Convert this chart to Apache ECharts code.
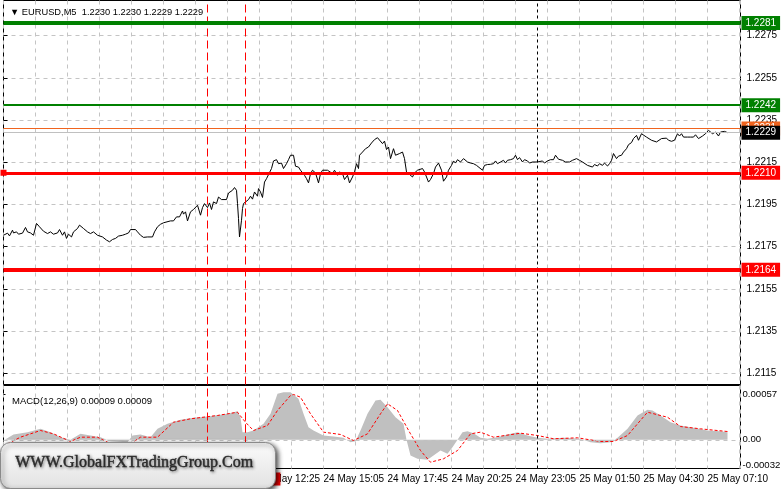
<!DOCTYPE html>
<html><head><meta charset="utf-8">
<script src="https://cdn.jsdelivr.net/npm/echarts@6/dist/echarts.min.js"></script>
<style>html,body{margin:0;padding:0;background:#fff}#c{width:781px;height:489px}</style>
</head><body><div id="c"></div>
<script>
// ---------- DATA ----------
const priceTicks = [1.2115,1.2135,1.2155,1.2175,1.2195,1.2215,1.2235,1.2255,1.2275];
const priceRange = [1.21097, 1.22916];
const macdTicks = [-0.00032, 0, 0.00057];
const macdRange = [-0.000361, 0.000683];
const timeTickBars = [32,64,96,128,160,192,224,256,288,320,352];
const timeTickLabels = ['24 May 04:25','24 May 07:05','24 May 09:45','24 May 12:25','24 May 15:05','24 May 17:45','24 May 20:25','24 May 23:05','25 May 01:50','25 May 04:30','25 May 07:10'];
const resistLevels = [1.2281, 1.2242];
const supportLevels = [1.2210, 1.2164];
const bidPrice = 1.2229;
const askPrice = 1.2231;
const eventBars = [102, 121];       // red vertical markers
const eventLabel = '24 May 11:50';
const daySeparatorBar = 267;
// [bar index, close]
const closeByBar = [
[0,1.21804],[1,1.21796],[2,1.21814],[3,1.21801],[4.5,1.21828],[5,1.21815],[6.5,1.2182],[7.5,1.21809],[9.5,1.21814],[11,1.21841],
[12,1.2182],[13.5,1.21815],[15,1.21804],[16.5,1.2186],[18,1.21844],[20,1.21823],[22,1.21812],[23.5,1.2182],[25,1.21809],[27,1.21815],
[28,1.21831],[29.5,1.21804],[30.5,1.2182],[31.5,1.21789],[32.5,1.21809],[34,1.21796],[35,1.2182],[37,1.21836],[38,1.21852],[40,1.21836],
[42,1.2182],[43.5,1.21812],[45,1.2182],[47,1.21804],[48,1.21812],[49.5,1.21796],[50.5,1.21789],[51.5,1.21781],[52,1.21789],[53,1.21773],
[54.5,1.21784],[56,1.21789],[57.5,1.218],[59.5,1.21804],[61,1.21809],[62.5,1.21815],[63.5,1.21831],[66,1.21831],[67,1.2182],[68.5,1.21804],
[70,1.21794],[72,1.21796],[74.5,1.21796],[75.5,1.2182],[77,1.21844],[78.5,1.21856],[80,1.21863],[81,1.21872],[83.5,1.21872],[85,1.21872],
[86.5,1.21891],[88,1.21891],[89.5,1.21919],[90,1.21904],[91,1.21915],[92,1.21872],
[93.5,1.21915],[95,1.21926],[97,1.21946],[98.5,1.21899],[99.5,1.21935],[100.5,1.21954],[102,1.21935],[103,1.21957],[104,1.21926],[105,1.21962],
[106.5,1.21954],[107.5,1.21985],[109,1.21973],[110,1.21978],[111.5,1.21973],[112.5,1.22004],[114.5,1.22017],[115.5,1.2203],[116.5,1.22017],[117,1.21954],
[117.5,1.21883],[118,1.21796],[119,1.21875],[119.5,1.21931],[120,1.21954],[121,1.21962],[122.5,1.21973],[123.5,1.21989],[124.5,1.21975],[125.5,1.22009],
[127,1.21989],[127.5,1.22025],[128.5,1.22009],[129.5,1.21983],[130.5,1.22056],[131.5,1.22072],[132.5,1.2208],[134,1.2212],[135,1.22156],[136.5,1.22162],
[137.5,1.22143],[139,1.22146],[140,1.2212],[141.5,1.22143],[142.5,1.22162],[143.5,1.22183],[145,1.22183],[146,1.22131],[147.5,1.22127],[148.5,1.22112],
[149.5,1.22104],[150.5,1.22088],[151.5,1.22072],[152.5,1.22052],[153.5,1.22096],[154.5,1.22112],[156,1.22099],[157.5,1.22052],[158.5,1.22096],[159.5,1.22112],
[160.5,1.2212],[162,1.22112],[163,1.22115],[164.5,1.22096],[165.5,1.22112],[167,1.22088],[168,1.22104],[169.5,1.22096],[170.5,1.22068],[172,1.22088],
[173,1.22052],[174.5,1.2208],[175.5,1.22104],[176.5,1.22143],[177.5,1.2212],[178,1.22183],[179.5,1.22198],[181,1.22214],[182.5,1.22222],[184,1.22241],
[185.5,1.22257],
[187,1.22266],[188,1.22262],[189.5,1.22238],[190.5,1.2225],[191.5,1.2221],[192.5,1.22222],[193.5,1.22167],[194.5,1.22172],[195,1.22214],[196,1.22183],
[197,1.22178],[198,1.22191],[199.5,1.22198],[200.5,1.22167],[201.5,1.22104],[202.5,1.22096],[204.5,1.2208],[205.5,1.22099],[207,1.22112],[208,1.22104],
[209.5,1.2212],[210.5,1.22104],[211.5,1.22096],[212.5,1.22056],[213.5,1.22068],[215,1.22096],[216,1.22127],[217.5,1.22146],[219,1.22112],[220,1.2206],
[221.5,1.2208],[222.5,1.22112],[224,1.22135],[225,1.22156],[226,1.22146],[227,1.22162],[228.5,1.22151],[230,1.22167],[231,1.22162],[232,1.22151],
[233.5,1.22146],[235,1.22143],[236.5,1.22135],[237.5,1.22127],[239.5,1.22112],[240.5,1.22135],[242,1.22139],[243.5,1.2214],[245,1.22143],[246,1.22156],
[247,1.22143],[248.5,1.22151],[250,1.22159],[251,1.22146],[252,1.22159],[253.5,1.22162],[255,1.22167],[256,1.22183],[257,1.22162],[258,1.22172],
[259.5,1.22151],[260.5,1.22162],[262,1.22156],[263,1.22146],[264.5,1.22151],[265.5,1.22143],[267,1.22151],[268,1.22143],[269.5,1.22156],[270.5,1.22146],
[272,1.22156],[273.5,1.22162],[275,1.22162],[276,1.22183],[277.5,1.22164],
[279.5,1.22159],[281,1.22151],[283,1.22151],[284.5,1.22159],[286.5,1.22167],[288,1.22159],[289.5,1.22151],[290.5,1.22143],[292,1.22135],[293,1.22143],
[294.5,1.22127],[295.5,1.22139],[297,1.22132],[298,1.22143],[299.5,1.22135],[300.5,1.22146],[302,1.22132],[303,1.22143],[304,1.22159],[305,1.22191],
[306.5,1.22167],[307.5,1.22179],[309,1.22183],[310,1.22198],[311.5,1.22214],[312.5,1.22233],[314,1.22243],[315,1.22262],[316.5,1.22277],[317.5,1.22254],
[319,1.22285],[320,1.2229],[321.5,1.22269],[322.5,1.22264],[324,1.22254],[325,1.22258],[326.5,1.22246],[327.5,1.22254],[329,1.22262],[330,1.22258],
[331.5,1.22264],[332.5,1.22254],[334,1.22249],[335.5,1.22254],[337,1.22285],[338,1.22274],[339,1.22285],[340,1.22269],[342,1.22269],[343.5,1.22269],
[345,1.22269],[346,1.2228],[347.5,1.22262],[348.5,1.22264],[349.5,1.22274],[351,1.22285],[352.5,1.22301],[353.5,1.22293],[354.5,1.22285],[356,1.22293],
[357.5,1.22274],[358.5,1.22293],[359.5,1.22301],[360.5,1.22296],[362,1.2229]
];
const macdHist = [
[0,-0.00001],[5,0.000067],[12,0.000096],[18.5,0.000138],[23.5,0.000096],[28.5,0.000033],[33.5,0],[38.5,0.000075],[43.5,0.000054],[48.5,0.000033],
[53.5,-0.000018],[62,-0.00003],[64.5,0.000054],[68.5,0.000067],[73.5,0.000033],[77,0.000138],[82,0.000201],[88.5,0.000252],[95,0.000277],[102,0.000293],
[112,0.000327],[117,0.00036],[118.5,0.000284],[119.5,0.000096],[122,0.000096],[125,0.000117],[130,0.000201],[133.5,0.000327],[137,0.000579],[140,0.000599],
[143.5,0.000599],[147.5,0.000516],[150,0.000327],[152.5,0.000158],[155,0.000117],[160,0.000054],[165,0.000042],[170,0.000025],[173.5,-0.00003],[176,-0.000018],
[178.5,0.000117],[182,0.000327],[186,0.000494],[188.5,0.000503],[192,0.00041],[196,0.000284],[200,0.000201],[201.5,0],[203.5,-0.000197],[207,-0.000239],
[212,-0.000252],[215,-0.000197],[218.5,-0.000135],[222,-0.000176],[224.5,-0.000093],[227,0],[229.5,0.000096],[232,0.000108],[235,0.000083],[238.5,0.000025],
[242,0.000013],[247,0.000033],[252,0.000067],[257,0.000096],[262,0.000054],[267,0.000025],[272,0.000013],[280,0.000025],[288.5,0.000013],[293.5,-0.00003],
[298.5,-0.000043],[303.5,-0.00003],[307,0.000025],[312,0.000138],[317,0.000306],[322,0.000377],[324.5,0.000369],[328.5,0.000306],[333.5,0.000221],[338.5,0.00018],
[345,0.000151],[352,0.000117],[358.5,0.000108],[362,0.000096]
];
const macdSignal = [
[2,-0.00005],[8.5,0.000033],[18.5,0.000117],[25,0.000075],[33.5,-0.000021],[38.5,0.000033],[47,0.000033],[53.5,-0.00005],[63.5,-0.00005],[68.5,0.000033],
[77,0.000033],[85,0.000221],[93.5,0.000264],[107,0.000306],[117,0.000347],[121,0.000221],[125,0.000117],[132,0.00018],[137,0.000369],[143.5,0.000557],
[145,0.00057],[148.5,0.000536],[153.5,0.000327],[160,0.000096],[168.5,0.000067],[175,-0.000009],[182,0.000075],[188.5,0.000327],[192,0.000453],[197,0.000369],
[203.5,0.000075],[208.5,-0.000135],[213.5,-0.000282],[220,-0.000239],[227,-0.000135],[233.5,0.000075],[238.5,0.000096],[245,0.000033],[258.5,0.000083],[267,0.000054],
[275,0.000013],[287,0.000025],[298.5,-0.000021],[305,-0.000021],[312,0.000054],[322,0.000347],[332,0.000284],[338.5,0.000167],[348.5,0.000138],[362,0.000104]
];

// ---------- CHART ----------
const FONT = 'Liberation Sans';
const chart = echarts.init(document.getElementById('c'));
const dashGrey = {color:'#c4c4c4', type:[4,4], width:1};
const RED = '#ff0000';
const EVT = '#ff0000';

function levelLine(v, color, width, labelBg, extra) {
  return Object.assign({
    yAxis: v,
    lineStyle: {color: color, width: width, type: 'solid'},
    label: {show: true, position: 'end', distance: 1, formatter: v.toFixed(4),
      backgroundColor: labelBg || color, color: '#fff', fontFamily: FONT, fontSize: 10,
      padding: [2, 4, 1, 4], lineHeight: 11}
  }, extra || {});
}

const mainMarks = [
  levelLine(resistLevels[0], '#008000', 4),
  levelLine(resistLevels[1], '#008000', 2),
  levelLine(askPrice, '#f0641e', 1),
  levelLine(bidPrice, '#c0c0c0', 1, '#000'),
  levelLine(supportLevels[0], RED, 3, null, {symbol: ['emptyRect','emptyRect'], symbolSize: 6}),
  levelLine(supportLevels[1], RED, 4)
];

// vertical line as a two-point line series spanning the panel's value range
function vLineSeries(axisIdx, bar, range, color, dash) {
  return {type: 'line', xAxisIndex: axisIdx, yAxisIndex: axisIdx,
    data: [[bar, range[0]], [bar, range[1]]], showSymbol: false, symbol: 'none', silent: true,
    color: color, lineStyle: {color: color, width: 1, type: dash}, z: 4};
}
const vSeriesList = [];
[[0, priceRange], [1, macdRange]].forEach(([ai, rg]) => {
  eventBars.forEach(b => vSeriesList.push(vLineSeries(ai, b, rg, EVT, [8,4])));
  vSeriesList.push(vLineSeries(ai, daySeparatorBar, rg, '#000000', [3,3]));
});

const xCommon = {type: 'value', min: 0, max: 368.5, interval: 16,
  axisLine: {show: false}, axisTick: {show: false},
  splitLine: {show: true, lineStyle: dashGrey}};

chart.setOption({
  animation: false,
  backgroundColor: '#fff',
  textStyle: {fontFamily: FONT},
  title: [
    {text: '\u25BC EURUSD,M5  1.2230 1.2230 1.2229 1.2229', left: 5, top: 3,
     textStyle: {fontSize: 9.3, fontWeight: 'normal', color: '#000', fontFamily: FONT}},
    {text: 'MACD(12,26,9) 0.00009 0.00009', left: 7, top: 391,
     textStyle: {fontSize: 9.5, fontWeight: 'normal', color: '#000', fontFamily: FONT}}
  ],
  grid: [
    {left: 3.5, right: 40.5, top: 0.5, height: 384, outerBoundsMode: 'none', containLabel: false,
     show: true, borderColor: '#000', borderWidth: 1, backgroundColor: 'transparent'},
    {left: 3.5, right: 40.5, top: 385.5, height: 83, outerBoundsMode: 'none', containLabel: false,
     show: true, borderColor: '#000', borderWidth: 1, backgroundColor: 'transparent'}
  ],
  xAxis: [
    Object.assign({gridIndex: 0, axisLabel: {show: false}}, xCommon),
    Object.assign({gridIndex: 1, axisLabel: {show: true, customValues: timeTickBars, align: 'left', margin: 6,
      color: '#000', fontSize: 10, fontFamily: FONT,
      formatter: v => { const i = timeTickBars.indexOf(Math.round(v)); return i >= 0 ? timeTickLabels[i] : ''; }}}, xCommon)
  ],
  yAxis: [
    {type: 'value', gridIndex: 0, position: 'right', min: priceRange[0], max: priceRange[1],
     axisLine: {show: false},
     axisTick: {show: true, customValues: priceTicks, length: 4, lineStyle: {color: '#000'}},
     axisLabel: {show: true, customValues: priceTicks, margin: 6, color: '#000', fontSize: 10, fontFamily: FONT,
       formatter: v => v.toFixed(4)},
     splitLine: {show: true, lineStyle: dashGrey}},
    {type: 'value', gridIndex: 1, position: 'right', min: macdRange[0], max: macdRange[1],
     axisLine: {show: false},
     axisTick: {show: true, customValues: macdTicks, length: 2, lineStyle: {color: '#000'}},
     axisLabel: {show: true, customValues: macdTicks, margin: 2, color: '#000', fontSize: 9.6, fontFamily: FONT,
       formatter: v => Math.abs(v) < 1e-9 ? '0.00' : v.toFixed(5)},
     splitLine: {show: false}}
  ],
  series: [
    {type: 'line', xAxisIndex: 0, yAxisIndex: 0, data: closeByBar, showSymbol: false, symbol: 'none',
     lineStyle: {color: '#000', width: 1}, z: 3,
     markLine: {silent: true, symbol: 'none', precision: 6, animation: false, data: mainMarks}},
    {type: 'line', xAxisIndex: 1, yAxisIndex: 1, data: macdHist, showSymbol: false, symbol: 'none',
     lineStyle: {width: 0, opacity: 0}, areaStyle: {color: '#c0c0c0', opacity: 1}, z: 2,
     markLine: {silent: true, symbol: 'none', precision: 8, animation: false,
       data: [
         {yAxis: 0, lineStyle: {color: '#c4c4c4', type: [4,4], width: 1}, label: {show: false}},
         {xAxis: eventBars[eventBars.length - 1], lineStyle: {color: EVT, type: [8,4], width: 1},
          label: {show: true, position: 'start', distance: 4, formatter: eventLabel,
            backgroundColor: RED, color: '#fff', fontFamily: FONT, fontSize: 10, padding: [2,5,1,5]}}
       ]}},
    {type: 'line', xAxisIndex: 1, yAxisIndex: 1, data: macdSignal, showSymbol: false, symbol: 'none',
     lineStyle: {color: '#ff0000', width: 1, type: [3,2]}, z: 3}
  ].concat(vSeriesList),
  graphic: [
    {type: 'rect', left: 0, top: 442, z: 100,
     shape: {width: 275, height: 46, r: 10},
     style: {fill: new echarts.graphic.LinearGradient(0,0,0,1,[{offset:0,color:'#fbfbfb'},{offset:1,color:'#e2e2e2'}]),
             stroke: '#8a8a8a', lineWidth: 1, shadowBlur: 5, shadowColor: 'rgba(0,0,0,0.75)', shadowOffsetX: 2, shadowOffsetY: 2}},
    {type: 'text', left: 15, top: 455, z: 101,
     style: {text: 'WWW.GlobalFXTradingGroup.Com', font: '16px "Liberation Serif"', fill: '#2b2b2b',
             stroke: '#2b2b2b', lineWidth: 0.4,
             textShadowColor: 'rgba(0,0,0,0.45)', textShadowBlur: 3, textShadowOffsetX: 1, textShadowOffsetY: 1}}
  ]
});
</script></body></html>
